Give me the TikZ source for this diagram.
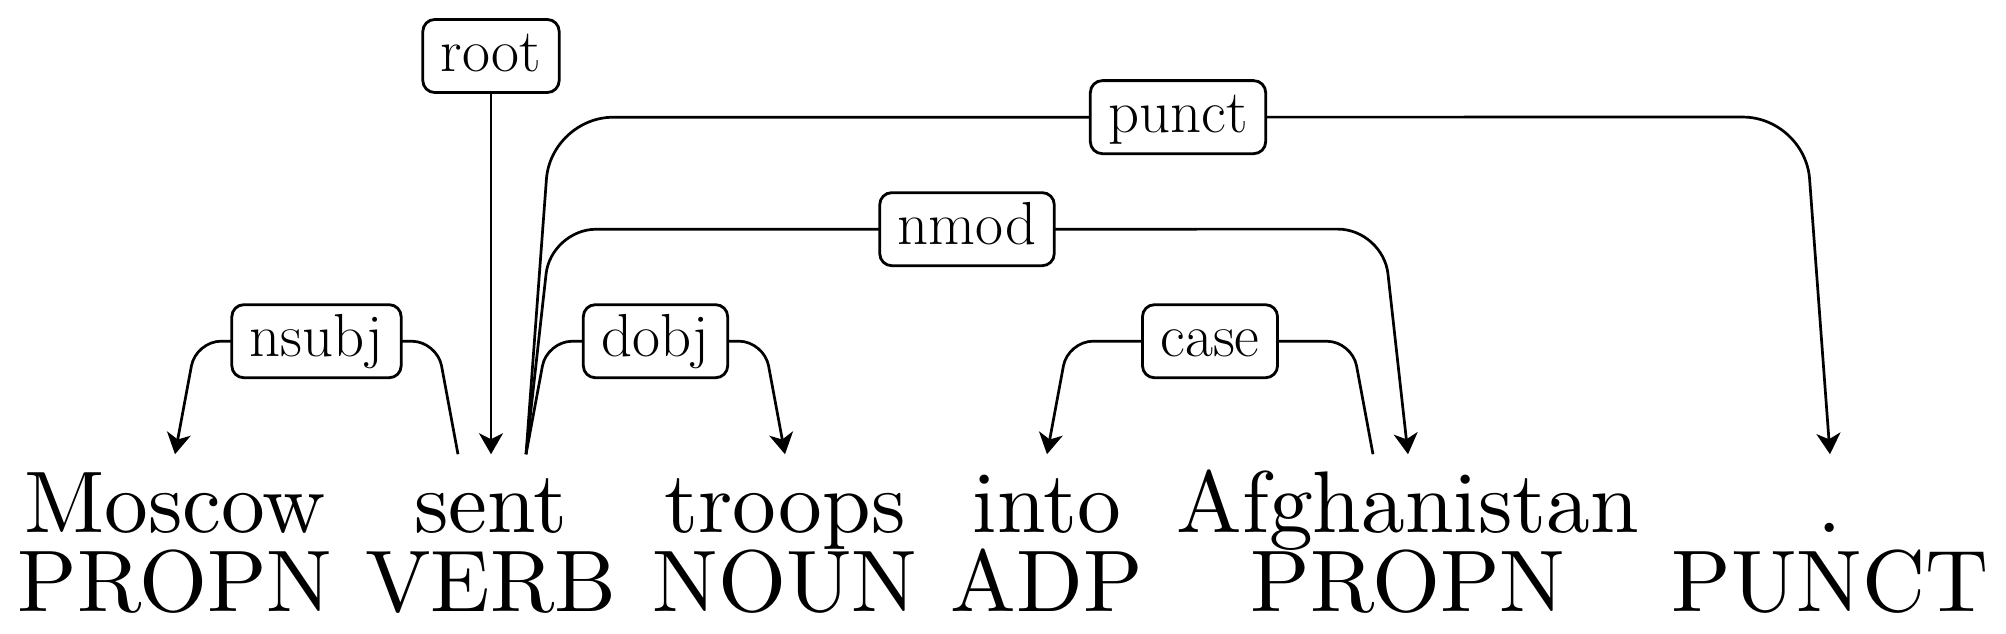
\documentclass[tikz,border=0pt]{standalone}
\usetikzlibrary{arrows.meta}
\DeclareFontFamily{TU}{lmten}{}
\DeclareFontShape{TU}{lmten}{m}{n}{<-> \UnicodeFontFile{lmroman10-regular}{\UnicodeFontTeXLigatures}}{}
\newcommand\wordfont{\fontfamily{lmten}\fontsize{24.88}{30}\selectfont}
\begin{document}
\begin{tikzpicture}[x=0.01cm,y=-0.01cm,
  word/.style={anchor=base,inner sep=0pt,text height=0.77cm,font=\wordfont},
  tag/.style={anchor=base,inner sep=0pt,font=\wordfont},
  lab/.style={draw,fill=white,rounded corners=0.12cm,line width=0.8pt,inner xsep=0.18cm,inner ysep=0pt,
    text height=0.42cm,text depth=0.12cm,minimum height=0.73cm,font=\fontsize{17.28}{20}\selectfont},
  dep/.style={line width=0.77pt,-{Stealth[length=0.21cm,width=0.24cm,inset=0.06cm]}}]
\useasboundingbox (0,0) rectangle (2006,634);
% words
\node[word] (w1) at (175,532) {Moscow};
\node[word] (w2) at (491,532) {sent};
\node[word] (w3) at (785,532) {troops};
\node[word] (w4) at (1047,532) {into};
\node[word] (w5) at (1408,532) {Afghanistan};
\node[word] (w6) at (1830,532) {.};
% tags
\node[tag] (t1) at (175,611) {PROPN};
\node[tag] (t2) at (491,611) {VERB};
\node[tag] (t3) at (785,611) {NOUN};
\node[tag] (t4) at (1047,611) {ADP};
\node[tag] (t5) at (1408,611) {PROPN};
\node[tag] (t6) at (1830,611) {PUNCT};
% root
\node[lab] (Lroot) at (491,56) {root};
\draw[dep] (Lroot) -- (w2.north);
% nsubj
\draw[dep,rounded corners=0.25cm] ([xshift=-0.33cm]w2.north) -- ++(-21,-113)
  -- node[lab] (Lnsubj) {nsubj} ([xshift=0.21cm,yshift=1.13cm]w1.north) -- (w1.north);
% dobj
\draw[dep,rounded corners=0.25cm] ([xshift=0.35cm]w2.north) -- ++(21,-113)
  -- node[lab] (Ldobj) {dobj} ([xshift=-0.21cm,yshift=1.13cm]w3.north) -- (w3.north);
% nmod
\draw[dep,rounded corners=0.45cm] ([xshift=0.35cm]w2.north) -- ++(25,-225)
  -- node[lab] (Lnmod) {nmod} ([xshift=-0.25cm,yshift=2.25cm]w5.north) -- (w5.north);
% punct
\draw[dep,rounded corners=0.62cm] ([xshift=0.35cm]w2.north) -- ++(25,-337)
  -- node[lab] (Lpunct) {punct} ([xshift=-0.25cm,yshift=3.37cm]w6.north) -- (w6.north);
% case
\draw[dep,rounded corners=0.25cm] ([xshift=-0.35cm]w5.north) -- ++(-21,-113)
  -- node[lab] (Lcase) {case} ([xshift=0.21cm,yshift=1.13cm]w4.north) -- (w4.north);
\end{tikzpicture}
\end{document}
